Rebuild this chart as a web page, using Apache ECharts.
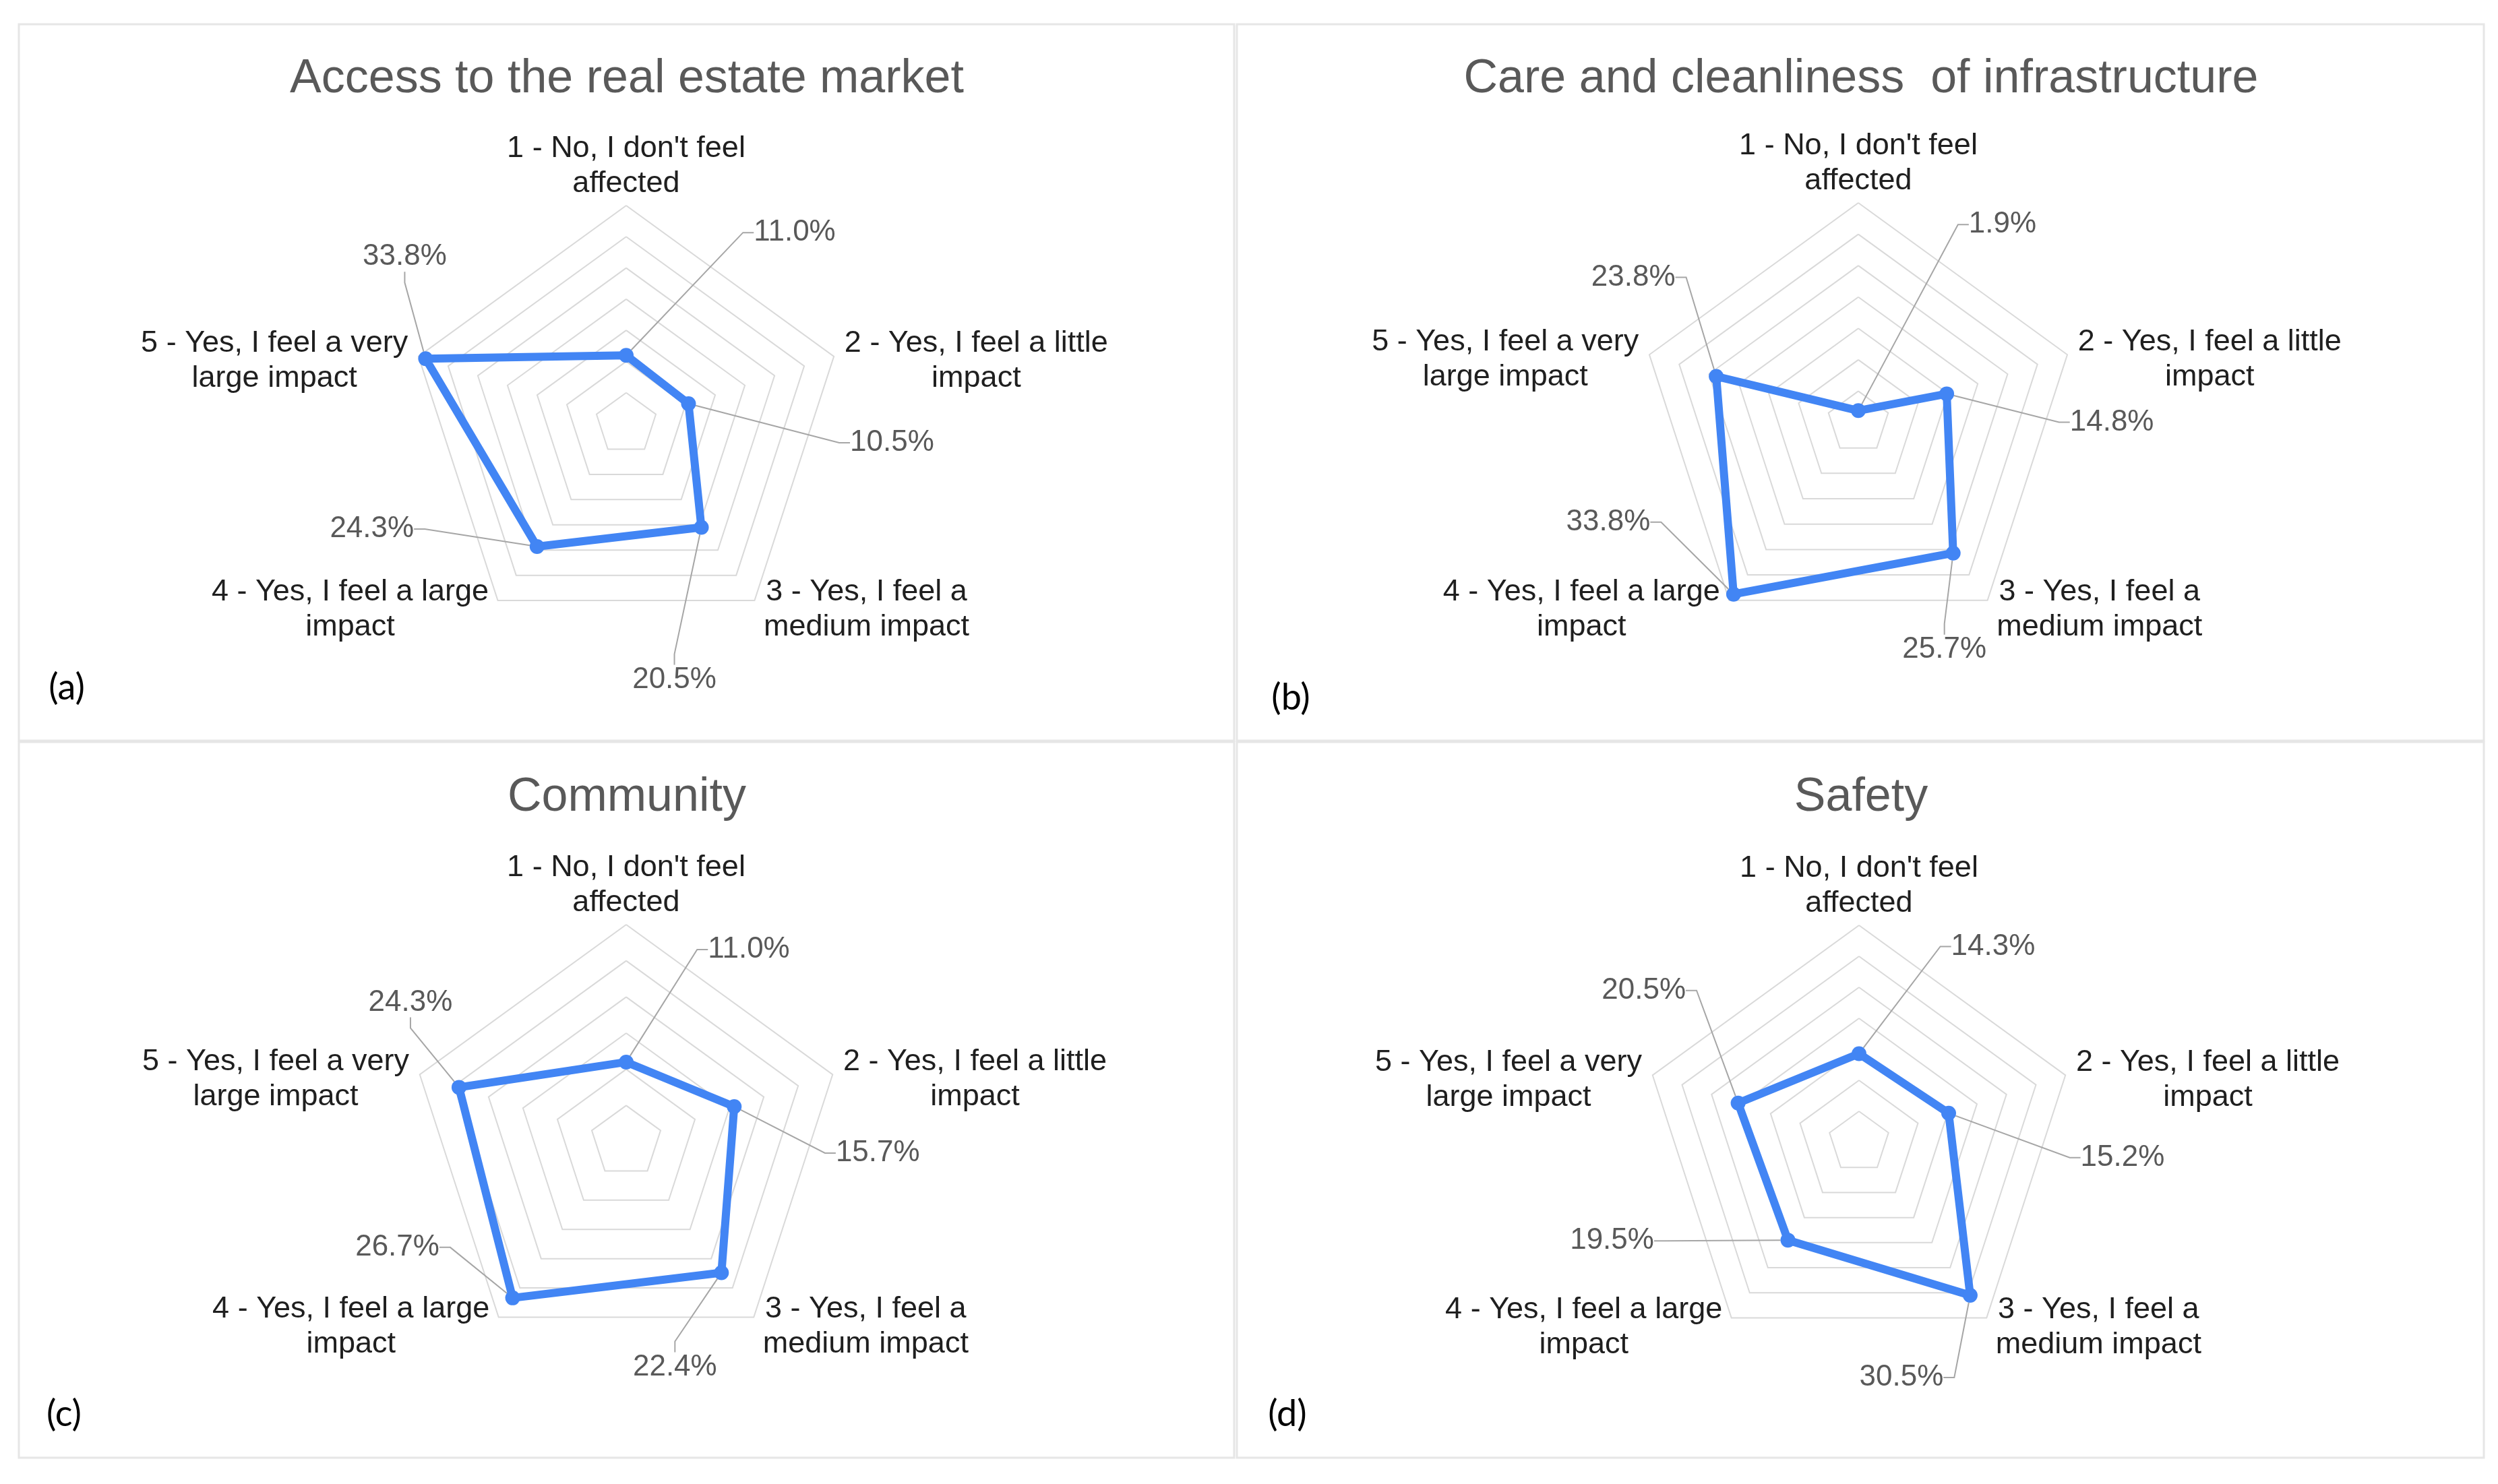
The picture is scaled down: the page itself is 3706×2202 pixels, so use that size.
<!DOCTYPE html>
<html>
<head>
<meta charset="utf-8">
<script src="https://cdn.jsdelivr.net/npm/echarts@6/dist/echarts.min.js"></script>
<style>
html,body{margin:0;padding:0;background:#ffffff;}
#chart{width:3706px;height:2202px;}
</style>
</head>
<body>
<div id="chart"></div>
<script>
// ---------- data ----------
const categories = [
  "1 - No, I don't feel\naffected",
  "2 - Yes, I feel a little\nimpact",
  "3 - Yes, I feel a\nmedium impact",
  "4 - Yes, I feel a large\nimpact",
  "5 - Yes, I feel a very\nlarge impact"
];
const titles = ["Access to the real estate market", "Care and cleanliness  of infrastructure", "Community", "Safety"];
const panelTags = ["(a)", "(b)", "(c)", "(d)"];
const accessValues = [11.0, 10.5, 20.5, 24.3, 33.8];
const careValues = [1.9, 14.8, 25.7, 33.8, 23.8];
const communityValues = [11.0, 15.7, 22.4, 26.7, 24.3];
const safetyValues = [14.3, 15.2, 30.5, 19.5, 20.5];
const axisMax = [35, 35, 30, 35];
const ringStep = 5;

// ---------- layout (positions / styles only) ----------
const layout = [
  {center:[929,629], radius:324, title:[930,118], tag:[99,1021], box:[28,36,1803,1063],
   offsets:[[250,-182],[302,58],[-40,226],[-245,-26],[-31,-151]]},
  {center:[2757,627], radius:326, title:[2761,118], tag:[1915,1036], box:[1835,36,1850,1063],
   offsets:[[214,-276],[245,42],[-13,143],[-186,-107],[-123,-147]]},
  {center:[929,1694], radius:322, title:[930,1184], tag:[95,2099], box:[28,1101,1803,1062],
   offsets:[[182,-167],[213,69],[-69,140],[-171,-75],[-72,-126]]},
  {center:[2758,1695], radius:322, title:[2761,1184], tag:[1910,2099], box:[1835,1101,1850,1062],
   offsets:[[199,-159],[258,66],[-102,122],[-261,1],[-140,-167]]}
];
const seriesValues = [accessValues, careValues, communityValues, safetyValues];
// ECharts places indicators counter-clockwise; reorder so they run clockwise from the top.
const order = [0, 4, 3, 2, 1];
const FONT = "'Liberation Sans', Arial, sans-serif";
const fmt = v => v.toFixed(1) + '%';

const radars = layout.map((L, i) => ({
  center: L.center,
  radius: L.radius,
  startAngle: 90,
  shape: 'polygon',
  splitNumber: axisMax[i] / ringStep,
  indicator: order.map(k => ({name: categories[k], min: 0, max: axisMax[i]})),
  nameGap: 6,
  axisName: {
    formatter: name => name.split('\n').map(s => '{n|' + s + '}').join('\n'),
    rich: {n: {align: 'center', fontSize: 45, lineHeight: 52, color: '#1f1f1f', fontFamily: FONT}},
    fontSize: 45, lineHeight: 52, color: '#1f1f1f', fontFamily: FONT,
    padding: [18, 10, 0, 10]
  },
  axisLine: {show: false},
  axisTick: {show: false},
  axisLabel: {show: false},
  splitArea: {show: false},
  splitLine: {lineStyle: {color: '#d9d9d9', width: 2}}
}));

const series = seriesValues.map((vals, i) => ({
  type: 'radar',
  radarIndex: i,
  symbol: 'circle',
  symbolSize: 22,
  silent: true,
  lineStyle: {color: '#4285f4', width: 12},
  itemStyle: {color: '#4285f4'},
  label: {
    show: true, position: 'inside',
    formatter: p => fmt(p.value),
    fontSize: 44, color: '#595959', fontFamily: FONT
  },
  labelLine: {show: true, length2: 16, lineStyle: {color: '#a6a6a6', width: 2}},
  labelLayout: params => {
    const idx = vals.findIndex(v => fmt(v) === params.text);
    if (idx < 0) return {};
    const o = layout[i].offsets[idx];
    return {dx: o[0], dy: o[1]};
  },
  data: [{value: order.map(k => vals[k]), name: titles[i]}]
}));

const graphics = [];
layout.forEach((L, i) => {
  graphics.push({type: 'rect', silent: true, z: 0,
    shape: {x: L.box[0], y: L.box[1], width: L.box[2], height: L.box[3]},
    style: {fill: 'none', stroke: '#e6e6e6', lineWidth: 3}});
  graphics.push({type: 'text', silent: true, x: L.title[0], y: L.title[1],
    style: {text: titles[i], align: 'center', verticalAlign: 'middle',
      font: "normal 70px 'Liberation Sans', Arial, sans-serif", fill: '#595959'}});
  graphics.push({type: 'text', silent: true, x: L.tag[0], y: L.tag[1],
    style: {text: panelTags[i], align: 'center', verticalAlign: 'middle',
      font: "normal 54px Lato, 'Open Sans', sans-serif", fill: '#000000'}});
});

const chart = echarts.init(document.getElementById('chart'), null, {renderer: 'canvas'});
chart.setOption({
  backgroundColor: '#ffffff',
  animation: false,
  radar: radars,
  series: series,
  graphic: graphics
});
</script>
</body>
</html>
